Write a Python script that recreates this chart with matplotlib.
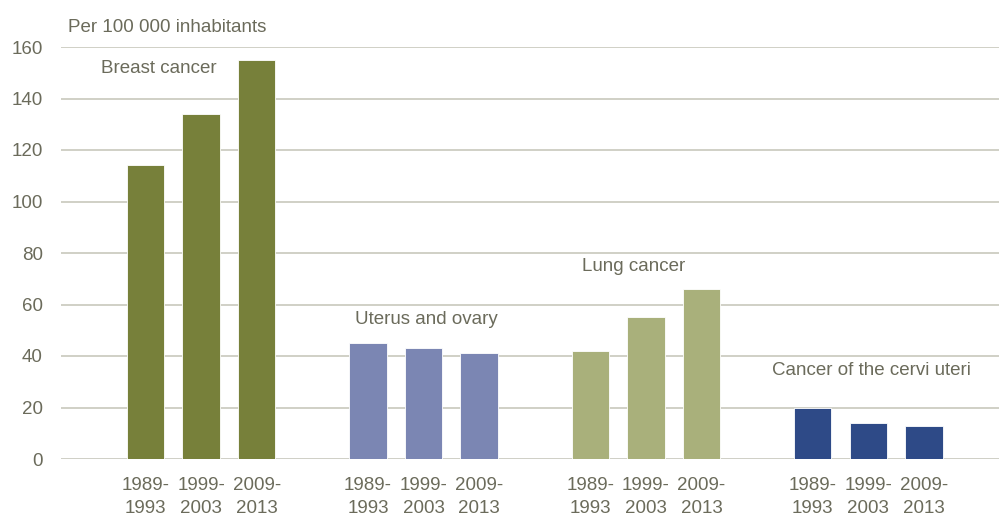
import numpy as np
import matplotlib
matplotlib.use("Agg")
import matplotlib.pyplot as plt

plt.rcParams['font.family'] = ['Liberation Sans', 'DejaVu Sans']

# data
groups = ["Breast cancer", "Uterus and ovary", "Lung cancer", "Cancer of the cervi uteri"]
periods = ["1989-\n1993", "1999-\n2003", "2009-\n2013"]
breast = [114, 134, 155]
uterus = [45, 43, 41]
lung = [42, 55, 66]
cervix = [20, 14, 13]
colors = ["#77803a", "#7b86b3", "#a9b07b", "#2e4a87"]

text_col = "#6b6b5b"
grid_col = "#c8c8bc"
fs = 13.5

fig = plt.figure(figsize=(9.99, 5.18), dpi=100)
ax = fig.add_axes([61/999, 1-459/518, 1-61/999, (459-47)/518])

xs = []
labels = []
for g, vals in enumerate([breast, uterus, lung, cervix]):
    x = np.arange(3) + g*4
    ax.bar(x, vals, width=0.67, color=colors[g], edgecolor="white", linewidth=0.6, zorder=3)
    xs.extend(x)
    labels.extend(periods)

ax.set_xlim(-1.52, 15.35)
ax.set_ylim(0, 160)
ax.set_yticks(np.arange(0, 161, 20))
ax.set_xticks(xs)
ax.set_xticklabels(labels, linespacing=1.45)
ax.tick_params(axis="both", length=0, labelsize=fs, labelcolor=text_col)
ax.tick_params(axis="x", pad=13)
ax.tick_params(axis="y", pad=13)
ax.grid(axis="y", color=grid_col, linewidth=1.2, zorder=0)
for s in ax.spines.values():
    s.set_visible(False)
ax.axhline(0, color="#d0d0c8", linewidth=2, zorder=2)

# group labels
label_pos = [(0.24, 151.8), (5.06, 54), (8.77, 74.6), (13.05, 34.2)]
for name, (lx, ly) in zip(groups, label_pos):
    ax.text(lx, ly, name, ha="center", va="center", fontsize=fs, color=text_col, zorder=4)

fig.text(68/999, 1-27/518, "Per 100 000 inhabitants", ha="left", va="center",
         fontsize=fs, color=text_col)

fig.savefig("out.png", dpi=100)
